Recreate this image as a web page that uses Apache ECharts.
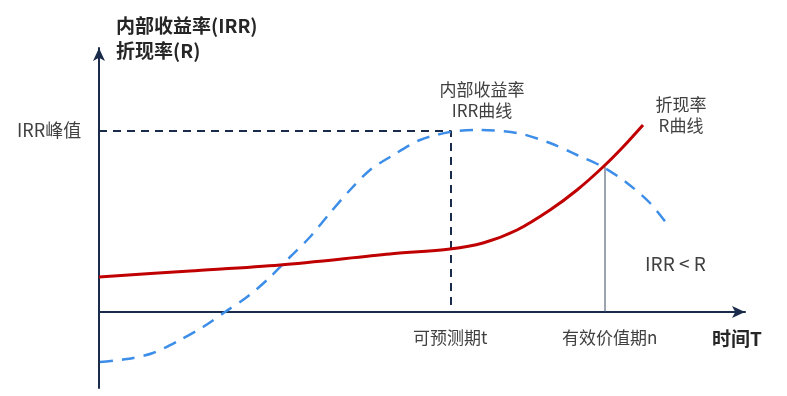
<!DOCTYPE html>
<html><head><meta charset="utf-8">
<script src="https://cdn.jsdelivr.net/npm/echarts@6/dist/echarts.min.js"></script>
<style>html,body{margin:0;padding:0;background:#fff}#c{width:787px;height:396px}</style>
</head><body><div id="c"></div>
<script>
// IRR curve (x = time, y = rate)
var irrX = [1, 28, 54, 81, 104, 126, 148, 168, 191, 211, 231, 251, 271, 291, 321, 351, 378, 418, 451, 478, 504, 528, 551, 568];
var irrY = [-50, -47, -41, -28, -15, 0, 15, 32, 55, 75, 99, 122, 142, 155, 172, 180, 182, 179, 169, 157, 145, 129, 109, 88];
// Discount rate R curve
var rX = [0, 91, 181, 291, 351, 384, 418, 451, 478, 504, 524, 544];
var rY = [35, 41, 47, 58, 63, 69, 82, 102, 122, 145, 165, 187];
// reference points
var peakT = 352, peakIRR = 181;   // forecast period t / IRR peak
var crossN = 506, crossR = 145;   // effective value period n
var labels = {
  yName1: '内部收益率(IRR)', yName2: '折现率(R)', peak: 'IRR峰值',
  irr1: '内部收益率', irr2: 'IRR曲线', r1: '折现率', r2: 'R曲线',
  cmp: 'IRR < R', t: '可预测期t', n: '有效价值期n', xName: '时间T'
};
function zip(a, b) { return a.map(function (v, i) { return [v, b[i]]; }); }
var axisCol = '#1b2b4b';
var chart = echarts.init(document.getElementById('c'));
var font = '"Noto Sans CJK SC", "Noto Sans", sans-serif';
function txt(s, x, y, size, bold, align, col) {
  return { type: 'text', x: x, y: y, style: { text: s, font: (bold ? 'bold ' : '') + size + 'px ' + font,
    fill: col || '#404040', align: align || 'left', verticalAlign: 'middle' } };
}
chart.setOption({
  animation: false,
  grid: { left: 99, right: 42, top: 48, bottom: 8 },
  xAxis: { type: 'value', min: 0, max: 646,
    axisLine: { onZero: true, lineStyle: { color: axisCol, width: 2 }, symbol: ['none', 'arrow'], symbolSize: [9, 13] },
    axisTick: { show: false }, axisLabel: { show: false }, splitLine: { show: false } },
  yAxis: { type: 'value', min: -76, max: 264,
    axisLine: { show: true, lineStyle: { color: axisCol, width: 2 }, symbol: ['none', 'arrow'], symbolSize: [9, 13] },
    axisTick: { show: false }, axisLabel: { show: false }, splitLine: { show: false } },
  series: [
    { type: 'line', data: [[0, peakIRR], [peakT, peakIRR], [peakT, 0]], symbol: 'none',
      lineStyle: { color: axisCol, width: 2, type: [8, 6] }, z: 1 },
    { type: 'line', data: [[crossN, crossR], [crossN, 0]], symbol: 'none',
      lineStyle: { color: '#3b4a66', width: 1 }, z: 1 },
    { type: 'line', data: zip(irrX, irrY), smooth: 0.3, symbol: 'none',
      lineStyle: { color: '#3d8ee8', width: 2.5, type: [13, 9] }, z: 2 },
    { type: 'line', data: zip(rX, rY), smooth: 0.3, symbol: 'none',
      lineStyle: { color: '#c00000', width: 3 }, z: 3 }
  ],
  graphic: [
    txt(labels.yName1, 116, 26, 19, true, 'left', '#262626'),
    txt(labels.yName2, 116, 51, 19, true, 'left', '#262626'),
    txt(labels.peak, 17, 130, 18),
    txt(labels.irr1, 482, 90, 17, false, 'center'),
    txt(labels.irr2, 482, 111, 17, false, 'center'),
    txt(labels.r1, 681, 105, 17, false, 'center'),
    txt(labels.r2, 681, 126, 17, false, 'center'),
    txt(labels.cmp, 645, 264, 19),
    txt(labels.t, 413, 338, 17),
    txt(labels.n, 562, 338, 17),
    txt(labels.xName, 712, 339, 19, true, 'left', '#262626')
  ]
});
</script></body></html>
